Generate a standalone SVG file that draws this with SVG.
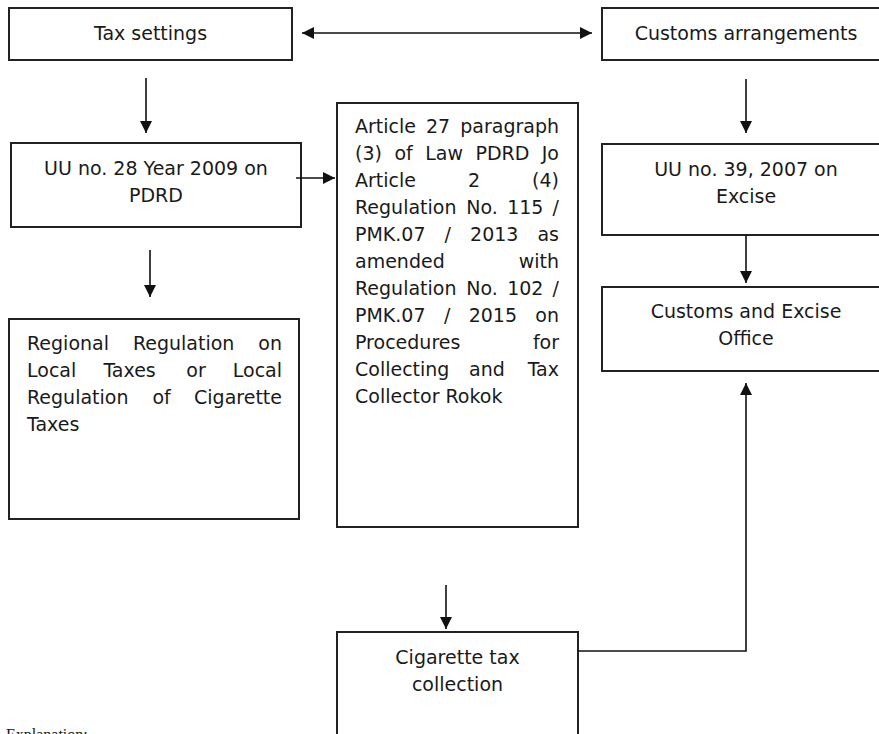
<svg xmlns="http://www.w3.org/2000/svg" width="879" height="734" viewBox="0 0 879 734">
<style>
.box{fill:#fff;stroke:#222;stroke-width:2}
.t{font-family:"DejaVu Sans","Liberation Sans",sans-serif;font-size:19px;fill:#1a1a1a}
.c{text-anchor:middle}
.e{text-anchor:end}
.ln{fill:none;stroke:#111;stroke-width:1.6}
.ex{font-family:"Liberation Serif",serif;font-size:16px;fill:#1a1a1a}
</style>
<defs>
<marker id="ah" markerWidth="12" markerHeight="12" refX="12" refY="6" orient="auto-start-reverse" markerUnits="userSpaceOnUse">
<path d="M0,0 L12,6 L0,12 z" fill="#111"/>
</marker>
</defs>
<rect width="879" height="734" fill="#fff"/>

<g id="tax-settings">
<rect class="box" x="9" y="8" width="283" height="52"/>
<text class="t c" x="150.5" y="40">Tax settings</text>
</g>

<g id="customs-arrangements">
<rect class="box" x="602" y="8" width="290" height="52"/>
<text class="t c" x="746" y="40">Customs arrangements</text>
</g>

<g id="uu28">
<rect class="box" x="11" y="143" width="290" height="84"/>
<text class="t c" x="156" y="175">UU no. 28 Year 2009 on</text>
<text class="t c" x="156" y="202">PDRD</text>
</g>

<g id="regional-regulation">
<rect class="box" x="9" y="319" width="290" height="200"/>
<text class="t" x="27" y="350">Regional</text>
<text class="t" x="132.9" y="350">Regulation</text>
<text class="t e" x="282" y="350">on</text>
<text class="t" x="27" y="377">Local</text>
<text class="t" x="103.4" y="377">Taxes</text>
<text class="t" x="186.3" y="377">or</text>
<text class="t e" x="282" y="377">Local</text>
<text class="t" x="27" y="404">Regulation</text>
<text class="t" x="152.4" y="404">of</text>
<text class="t e" x="282" y="404">Cigarette</text>
<text class="t" x="27" y="431">Taxes</text>
</g>

<g id="article27">
<rect class="box" x="337" y="103" width="241" height="424"/>
<text class="t" x="355" y="133">Article</text>
<text class="t" x="426" y="133">27</text>
<text class="t e" x="559" y="133">paragraph</text>
<text class="t" x="355" y="160">(3)</text>
<text class="t" x="394.4" y="160">of</text>
<text class="t" x="425.2" y="160">Law</text>
<text class="t" x="475.5" y="160">PDRD</text>
<text class="t e" x="559" y="160">Jo</text>
<text class="t" x="355" y="187">Article</text>
<text class="t" x="468" y="187">2</text>
<text class="t e" x="559" y="187">(4)</text>
<text class="t" x="355" y="214">Regulation</text>
<text class="t" x="466.3" y="214">No.</text>
<text class="t" x="507.2" y="214">115</text>
<text class="t e" x="559" y="214">/</text>
<text class="t" x="355" y="241">PMK.07</text>
<text class="t" x="444.6" y="241">/</text>
<text class="t" x="470.1" y="241">2013</text>
<text class="t e" x="559" y="241">as</text>
<text class="t" x="355" y="268">amended</text>
<text class="t e" x="559" y="268">with</text>
<text class="t" x="355" y="295">Regulation</text>
<text class="t" x="466.3" y="295">No.</text>
<text class="t" x="507.2" y="295">102</text>
<text class="t e" x="559" y="295">/</text>
<text class="t" x="355" y="322">PMK.07</text>
<text class="t" x="443.9" y="322">/</text>
<text class="t" x="468.7" y="322">2015</text>
<text class="t e" x="559" y="322">on</text>
<text class="t" x="355" y="349">Procedures</text>
<text class="t e" x="559" y="349">for</text>
<text class="t" x="355" y="376">Collecting</text>
<text class="t" x="469.1" y="376">and</text>
<text class="t e" x="559" y="376">Tax</text>
<text class="t" x="355" y="403">Collector Rokok</text>
</g>

<g id="uu39">
<rect class="box" x="602" y="144" width="290" height="91"/>
<text class="t c" x="746" y="176">UU no. 39, 2007 on</text>
<text class="t c" x="746" y="203">Excise</text>
</g>

<g id="customs-office">
<rect class="box" x="602" y="287" width="290" height="84"/>
<text class="t c" x="746" y="318">Customs and Excise</text>
<text class="t c" x="746" y="345">Office</text>
</g>

<g id="cigarette-collection">
<rect class="box" x="337" y="632" width="241" height="130"/>
<text class="t c" x="457.5" y="664">Cigarette tax</text>
<text class="t c" x="457.5" y="691">collection</text>
</g>

<g id="connectors">
<line class="ln" x1="302" y1="33" x2="592" y2="33" marker-start="url(#ah)" marker-end="url(#ah)"/>
<line class="ln" x1="146" y1="78" x2="146" y2="133" marker-end="url(#ah)"/>
<line class="ln" x1="296" y1="178" x2="335" y2="178" marker-end="url(#ah)"/>
<line class="ln" x1="150" y1="250" x2="150" y2="297" marker-end="url(#ah)"/>
<line class="ln" x1="746" y1="79" x2="746" y2="133" marker-end="url(#ah)"/>
<line class="ln" x1="746" y1="235" x2="746" y2="283" marker-end="url(#ah)"/>
<line class="ln" x1="446" y1="585" x2="446" y2="629" marker-end="url(#ah)"/>
<polyline class="ln" points="578,651 746,651 746,383" marker-end="url(#ah)"/>
</g>

<text class="ex" x="6" y="740">Explanation:</text>
</svg>
